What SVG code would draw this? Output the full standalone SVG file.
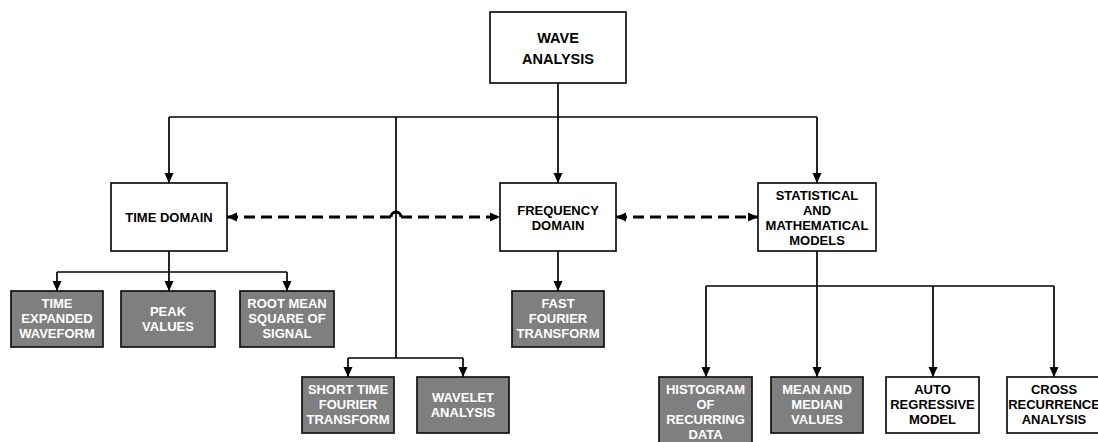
<svg xmlns="http://www.w3.org/2000/svg" width="1098" height="442" viewBox="0 0 1098 442">
<style>
.box{fill:#ffffff;stroke:#111111;stroke-width:1.7}
.gbox{fill:#7f7f7f;stroke:#111111;stroke-width:1.7}
text{font-family:"Liberation Sans",Arial,sans-serif;font-weight:bold;font-size:13px;text-anchor:middle}
.wt{fill:#ffffff}
.bt{fill:#000000}
.ln{fill:none;stroke:#000000;stroke-width:1.7}
.dl{fill:none;stroke:#000000;stroke-width:3;stroke-dasharray:11 6}
</style>
<defs>
<marker id="ah" markerWidth="11" markerHeight="11" refX="10" refY="5.5" orient="auto-start-reverse" markerUnits="userSpaceOnUse">
<path d="M0,1 L10,5.5 L0,10 Z" fill="#000000"/>
</marker>
</defs>
<g id="connectors">
<path class="ln" d="M558,83 V117"/>
<path class="ln" d="M169,117 H817"/>
<path class="ln" d="M169,117 V183" marker-end="url(#ah)"/>
<path class="ln" d="M396,117 V358"/>
<path class="ln" d="M558,117 V183" marker-end="url(#ah)"/>
<path class="ln" d="M817,117 V183" marker-end="url(#ah)"/>
<path class="ln" d="M57,272 H287"/>
<path class="ln" d="M169,251 V291" marker-end="url(#ah)"/>
<path class="ln" d="M57,272 V291" marker-end="url(#ah)"/>
<path class="ln" d="M287,272 V291" marker-end="url(#ah)"/>
<path class="ln" d="M348,358 H463"/>
<path class="ln" d="M348,358 V377" marker-end="url(#ah)"/>
<path class="ln" d="M463,358 V377" marker-end="url(#ah)"/>
<path class="ln" d="M558,251 V291" marker-end="url(#ah)"/>
<path class="ln" d="M706,286 H1054"/>
<path class="ln" d="M817,251 V377" marker-end="url(#ah)"/>
<path class="ln" d="M706,286 V377" marker-end="url(#ah)"/>
<path class="ln" d="M933,286 V377" marker-end="url(#ah)"/>
<path class="ln" d="M1054,286 V377" marker-end="url(#ah)"/>
<path class="dl" d="M391,217 H227" marker-end="url(#ah)"/>
<path fill="none" stroke="#000000" stroke-width="3" d="M391,217 A5,5 0 0 1 401,217"/>
<path class="dl" d="M401,217 H500" marker-end="url(#ah)"/>
<path class="dl" d="M616,217 H758" marker-start="url(#ah)" marker-end="url(#ah)"/>
</g>
<g id="wave">
<rect class="box" x="490" y="12" width="136" height="71"/>
<text class="bt" x="558" y="43" style="font-size:14.5px">WAVE</text>
<text class="bt" x="558" y="64" style="font-size:14.5px">ANALYSIS</text>
</g>
<g id="time">
<rect class="box" x="111" y="183" width="116" height="68"/>
<text class="bt" x="169" y="222">TIME DOMAIN</text>
</g>
<g id="freq">
<rect class="box" x="500" y="183" width="116" height="68"/>
<text class="bt" x="558" y="214.5">FREQUENCY</text>
<text class="bt" x="558" y="229.5">DOMAIN</text>
</g>
<g id="stat">
<rect class="box" x="758" y="183" width="118" height="68"/>
<text class="bt" x="817" y="199.5">STATISTICAL</text>
<text class="bt" x="817" y="214.5">AND</text>
<text class="bt" x="817" y="229.5">MATHEMATICAL</text>
<text class="bt" x="817" y="244.5">MODELS</text>
</g>
<g id="timeexp">
<rect class="gbox" x="11" y="291" width="92" height="56"/>
<text class="wt" x="57" y="308">TIME</text>
<text class="wt" x="57" y="323">EXPANDED</text>
<text class="wt" x="57" y="338">WAVEFORM</text>
</g>
<g id="peak">
<rect class="gbox" x="121" y="291" width="94" height="56"/>
<text class="wt" x="168" y="315.5">PEAK</text>
<text class="wt" x="168" y="330.5">VALUES</text>
</g>
<g id="rms">
<rect class="gbox" x="240" y="291" width="94" height="56"/>
<text class="wt" x="287" y="308">ROOT MEAN</text>
<text class="wt" x="287" y="323">SQUARE OF</text>
<text class="wt" x="287" y="338">SIGNAL</text>
</g>
<g id="fft">
<rect class="gbox" x="512" y="291" width="92" height="56"/>
<text class="wt" x="558" y="308">FAST</text>
<text class="wt" x="558" y="323">FOURIER</text>
<text class="wt" x="558" y="338">TRANSFORM</text>
</g>
<g id="stft">
<rect class="gbox" x="302" y="377" width="92" height="56"/>
<text class="wt" x="348" y="394">SHORT TIME</text>
<text class="wt" x="348" y="409">FOURIER</text>
<text class="wt" x="348" y="424">TRANSFORM</text>
</g>
<g id="wavelet">
<rect class="gbox" x="417" y="377" width="92" height="56"/>
<text class="wt" x="463" y="401.5">WAVELET</text>
<text class="wt" x="463" y="416.5">ANALYSIS</text>
</g>
<g id="hist">
<rect class="gbox" x="659" y="377" width="93" height="70"/>
<text class="wt" x="705.5" y="393.5">HISTOGRAM</text>
<text class="wt" x="705.5" y="408.5">OF</text>
<text class="wt" x="705.5" y="423.5">RECURRING</text>
<text class="wt" x="705.5" y="438.5">DATA</text>
</g>
<g id="mean">
<rect class="gbox" x="771" y="377" width="92" height="56"/>
<text class="wt" x="817" y="394">MEAN AND</text>
<text class="wt" x="817" y="409">MEDIAN</text>
<text class="wt" x="817" y="424">VALUES</text>
</g>
<g id="auto">
<rect class="box" x="886" y="377" width="93" height="56"/>
<text class="bt" x="932.5" y="394">AUTO</text>
<text class="bt" x="932.5" y="409">REGRESSIVE</text>
<text class="bt" x="932.5" y="424">MODEL</text>
</g>
<g id="cross">
<rect class="box" x="1007" y="377" width="94" height="56"/>
<text class="bt" x="1054" y="394">CROSS</text>
<text class="bt" x="1054" y="409">RECURRENCE</text>
<text class="bt" x="1054" y="424">ANALYSIS</text>
</g>
</svg>
